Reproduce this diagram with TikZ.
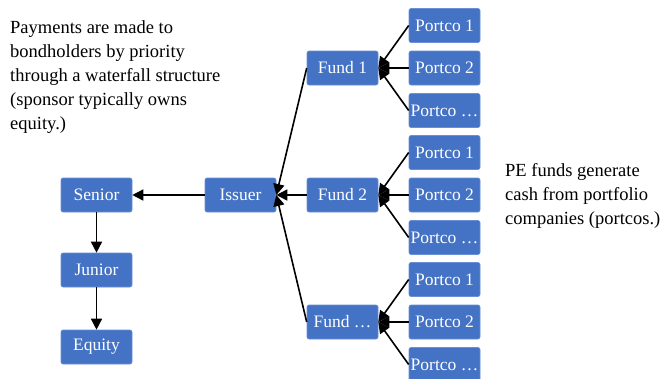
\documentclass[tikz,border=0pt]{standalone}
\usepackage{fontspec}
\setmainfont{Liberation Serif}
\usetikzlibrary{arrows.meta}
\definecolor{boxblue}{HTML}{4472C4}
\definecolor{boxedge}{HTML}{6A8FD6}
\begin{document}
\begin{tikzpicture}[x=1pt,y=-1pt,
  stepbox/.style={fill=boxblue, draw=boxedge, line width=0.6pt, rounded corners=2pt,
    minimum width=71pt, minimum height=34pt, inner sep=0pt, text=white,
    font=\fontsize{17.5}{20}\selectfont},
  flow/.style={draw=black, line width=1.6pt, -{Triangle[length=11pt,width=11pt]}},
  note/.style={align=left, inner sep=0pt, font=\fontsize{18.5}{24}\selectfont}]
\useasboundingbox (0,0) rectangle (663,378);
% funds and issuer
\node[stepbox] (f1) at (342.5,68) {Fund 1};
\node[stepbox] (f2) at (342.5,195) {Fund 2};
\node[stepbox] (f3) at (342.5,322) {Fund \dots};
\node[stepbox] (iss) at (240.5,195) {Issuer};
\node[stepbox] (sen) at (96.5,195) {Senior};
\node[stepbox] (jun) at (96.5,270) {Junior};
\node[stepbox] (equ) at (96.5,347) {Equity};
% portcos
\node[stepbox] (p11) at (444.5,25.5) {Portco 1};
\node[stepbox] (p12) at (444.5,68) {Portco 2};
\node[stepbox] (p13) at (444.5,110.5) {Portco \dots};
\node[stepbox] (p21) at (444.5,152.5) {Portco 1};
\node[stepbox] (p22) at (444.5,195) {Portco 2};
\node[stepbox] (p23) at (444.5,237.5) {Portco \dots};
\node[stepbox] (p31) at (444.5,279.5) {Portco 1};
\node[stepbox] (p32) at (444.5,322) {Portco 2};
\node[stepbox] (p33) at (444.5,364.5) {Portco \dots};
% arrows portcos -> funds
\foreach \g in {1,2,3}{
  \foreach \p in {1,2,3}{
    \draw[flow] (p\g\p.west) -- (f\g.east);
  }
  \draw[flow] (f\g.west) -- (iss.east);
}
\draw[flow] (iss.west) -- (sen.east);
\draw[flow] (sen.south) -- (jun.north);
\draw[flow] (jun.south) -- (equ.north);
% notes (anchored at the baseline of their last line)
\node[note, anchor=base west] (t1) at (10,129) {Payments are made to\\bondholders by priority\\through a waterfall structure\\(sponsor typically owns\\equity.)};
\node[note, anchor=base west] (t2) at (505,224) {PE funds generate\\cash from portfolio\\companies (portcos.)};
\end{tikzpicture}
\end{document}
